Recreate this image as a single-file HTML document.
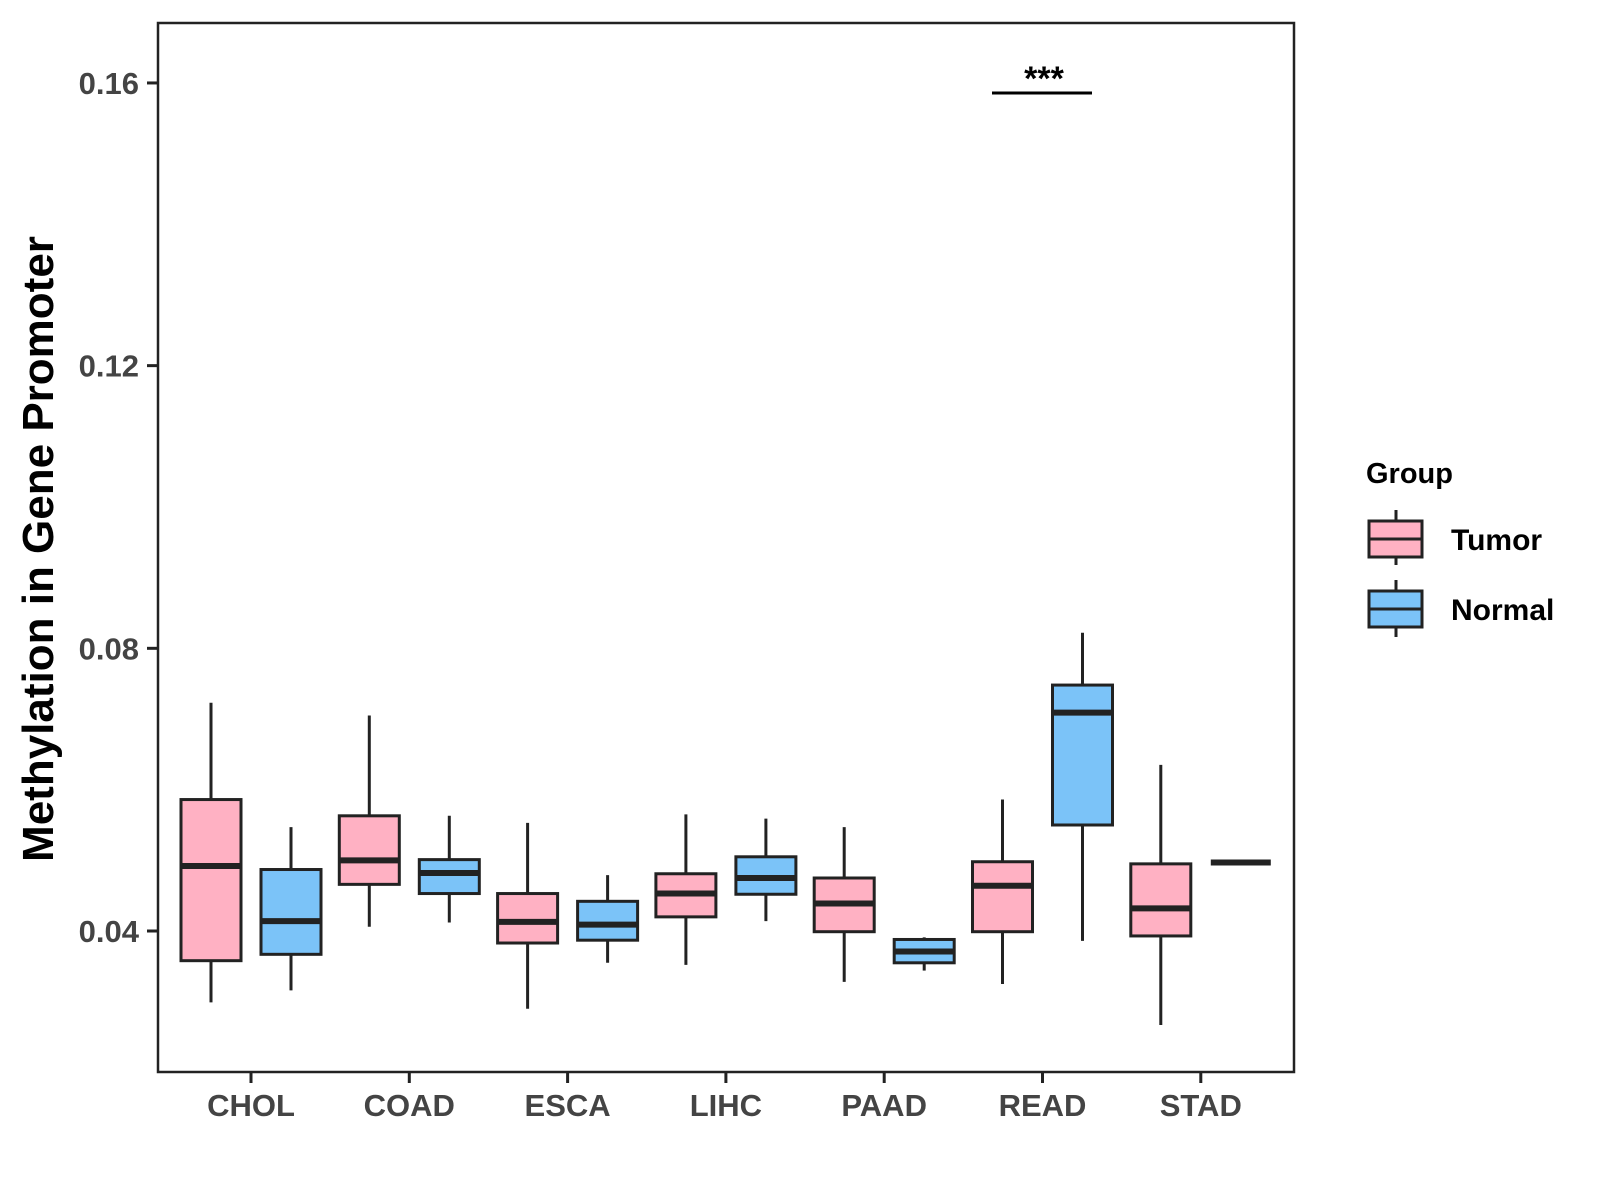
<!DOCTYPE html>
<html><head><meta charset="utf-8"><style>body{margin:0;background:#fff}svg{display:block;font-family:"Liberation Sans",Arial,sans-serif;font-weight:bold}</style></head>
<body>
<svg id="chart" width="1600" height="1200" viewBox="0 0 1600 1200" xmlns="http://www.w3.org/2000/svg">
<rect x="158" y="23" width="1136" height="1049" fill="none" stroke="#222" stroke-width="2.5"/>
<g id="yticks"></g><g id="xticks"></g><g id="boxes"></g>
<text transform="translate(53,549) rotate(-90)" text-anchor="middle" font-size="44" fill="#000">Methylation in Gene Promoter</text>
<line x1="992" x2="1092" y1="93" y2="93" stroke="#000" stroke-width="3"/>
<text x="1044" y="90" text-anchor="middle" font-size="34" fill="#000">***</text>
<g>
<text x="1366" y="483" font-size="29" fill="#000">Group</text>
<g>
<line x1="1396" x2="1396" y1="510" y2="565" stroke="#222" stroke-width="3"/>
<rect x="1369" y="521" width="53" height="36" fill="#FFB1C3" stroke="#222" stroke-width="3"/>
<line x1="1369" x2="1422" y1="539" y2="539" stroke="#222" stroke-width="3"/>
<text x="1451" y="550" font-size="30" fill="#000">Tumor</text></g>
<g>
<line x1="1396" x2="1396" y1="580" y2="637" stroke="#222" stroke-width="3"/>
<rect x="1369" y="591" width="53" height="36" fill="#7BC3F8" stroke="#222" stroke-width="3"/>
<line x1="1369" x2="1422" y1="609" y2="609" stroke="#222" stroke-width="3"/>
<text x="1451" y="620" font-size="30" fill="#000">Normal</text></g>
</g>
</svg>
<script>
const categories=["CHOL","COAD","ESCA","LIHC","PAAD","READ","STAD"];
const yTicks=[0.04,0.08,0.12,0.16];
const yTickLabels=["0.04","0.08","0.12","0.16"];
// [lowWhisker, q1, median, q3, highWhisker]
const tumor=[[0.0299,0.0358,0.0492,0.0586,0.0723],[0.0406,0.0466,0.0500,0.0563,0.0705],[0.0290,0.0383,0.0413,0.0453,0.0553],[0.0352,0.0420,0.0453,0.0481,0.0565],[0.0328,0.0399,0.0439,0.0475,0.0547],[0.0325,0.0399,0.0464,0.0498,0.0586],[0.0267,0.0393,0.0432,0.0495,0.0635]];
const normal=[[0.0316,0.0367,0.0414,0.0487,0.0547],[0.0412,0.0453,0.0482,0.0501,0.0563],[0.0355,0.0387,0.0409,0.0442,0.0479],[0.0414,0.0452,0.0475,0.0505,0.0559],[0.0344,0.0355,0.0371,0.0388,0.0391],[0.0386,0.0550,0.0709,0.0748,0.0822],[0.0497,0.0497,0.0497,0.0497,0.0497]];
const NS="http://www.w3.org/2000/svg";
function y(v){return 931-(v-0.04)*7067;}
function x(i){return 251+i*158.3;}
function mk(t,a,p){const e=document.createElementNS(NS,t);for(const k in a)e.setAttribute(k,a[k]);p.appendChild(e);return e;}
const yt=document.getElementById('yticks'),xt=document.getElementById('xticks'),bx=document.getElementById('boxes');
yTicks.forEach((v,i)=>{
 const l=mk('line',{x1:147,x2:158,y1:y(v),y2:y(v),stroke:'#222','stroke-width':3},yt);
 
 
 const t=mk('text',{x:139,y:y(v)+11,'text-anchor':'end','font-size':31,fill:'#444'},yt);
 t.textContent=yTickLabels[i];
 
 
});
categories.forEach((c,i)=>{
 const l=mk('line',{x1:x(i),x2:x(i),y1:1072,y2:1083,stroke:'#222','stroke-width':3},xt);
 
 
 const t=mk('text',{x:x(i),y:1116,'text-anchor':'middle','font-size':31,fill:'#444'},xt);
 t.textContent=c;
 
 
});
function box(cx,d,fill,name){
 const g=mk('g',{},bx);
 
 
 const w=30;
 mk('line',{x1:cx,x2:cx,y1:y(d[0]),y2:y(d[4]),stroke:'#222','stroke-width':3},g);
 mk('rect',{x:cx-w,y:y(d[3]),width:2*w,height:Math.max(0,y(d[1])-y(d[3])),fill:fill,stroke:'#222','stroke-width':3},g);
 mk('line',{x1:cx-w,x2:cx+w,y1:y(d[2]),y2:y(d[2]),stroke:'#222','stroke-width':6},g);
}
categories.forEach((c,i)=>{
 box(x(i)-40,tumor[i],'#FFB1C3','box-'+c.toLowerCase()+'-tumor');
 box(x(i)+40,normal[i],'#7BC3F8','box-'+c.toLowerCase()+'-normal');
});
</script>
</body></html>
